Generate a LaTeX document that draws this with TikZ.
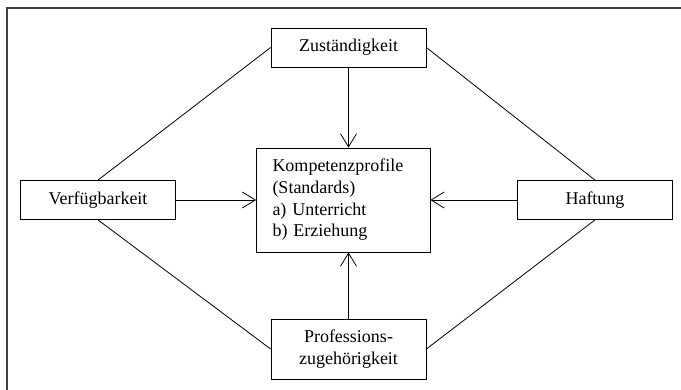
\documentclass[tikz,border=0pt]{standalone}
\usepackage{fontspec}
\setmainfont{Liberation Serif}
\usetikzlibrary{arrows.meta}
\begin{document}
\begin{tikzpicture}[x=1pt,y=-1pt,
  box/.style={draw, line width=0.8pt, minimum width=155pt, minimum height=39pt, inner sep=0pt, align=center, font=\fontsize{18}{21.7}\selectfont},
  link/.style={line width=0.8pt},
  arr/.style={line width=0.8pt, -{Straight Barb[length=13pt,width=16pt,line width=0.8pt]}},
  frame/.style={line width=1.4pt, draw=black!75}]
\useasboundingbox (0,0) rectangle (681,389);
\coordinate (f1) at (684,8);
\coordinate (f2) at (7,8);
\coordinate (f3) at (7,392);
\draw[frame] (f1) -- (f2) -- (f3);
\node[box] (zu) at (348.5,47.5) {Zuständigkeit};
\node[box] (ve) at (98,200) {Verfügbarkeit};
\node[box] (ha) at (595,200) {Haftung};
\node[box, minimum height=60pt] (pr) at (348.5,349) {Professions-\\zugehörigkeit};
\node[box, text width=141.5pt, inner xsep=16pt, minimum height=104pt, align=left] (ko) at (343.25,200) {Kompetenzprofile\\(Standards)\\a) Unterricht\\b) Erziehung};
\draw[link] (zu.west) -- (ve.north);
\draw[link] (ve.south) -- (pr.west);
\draw[link] (pr.east) -- (ha.south);
\draw[link] (ha.north) -- (zu.east);
\draw[arr] (zu.south) -- (zu.south |- ko.north);
\draw[arr] (pr.north) -- (pr.north |- ko.south);
\draw[arr] (ve.east) -- (ko.west);
\draw[arr] (ha.west) -- (ko.east);
\end{tikzpicture}
\end{document}
